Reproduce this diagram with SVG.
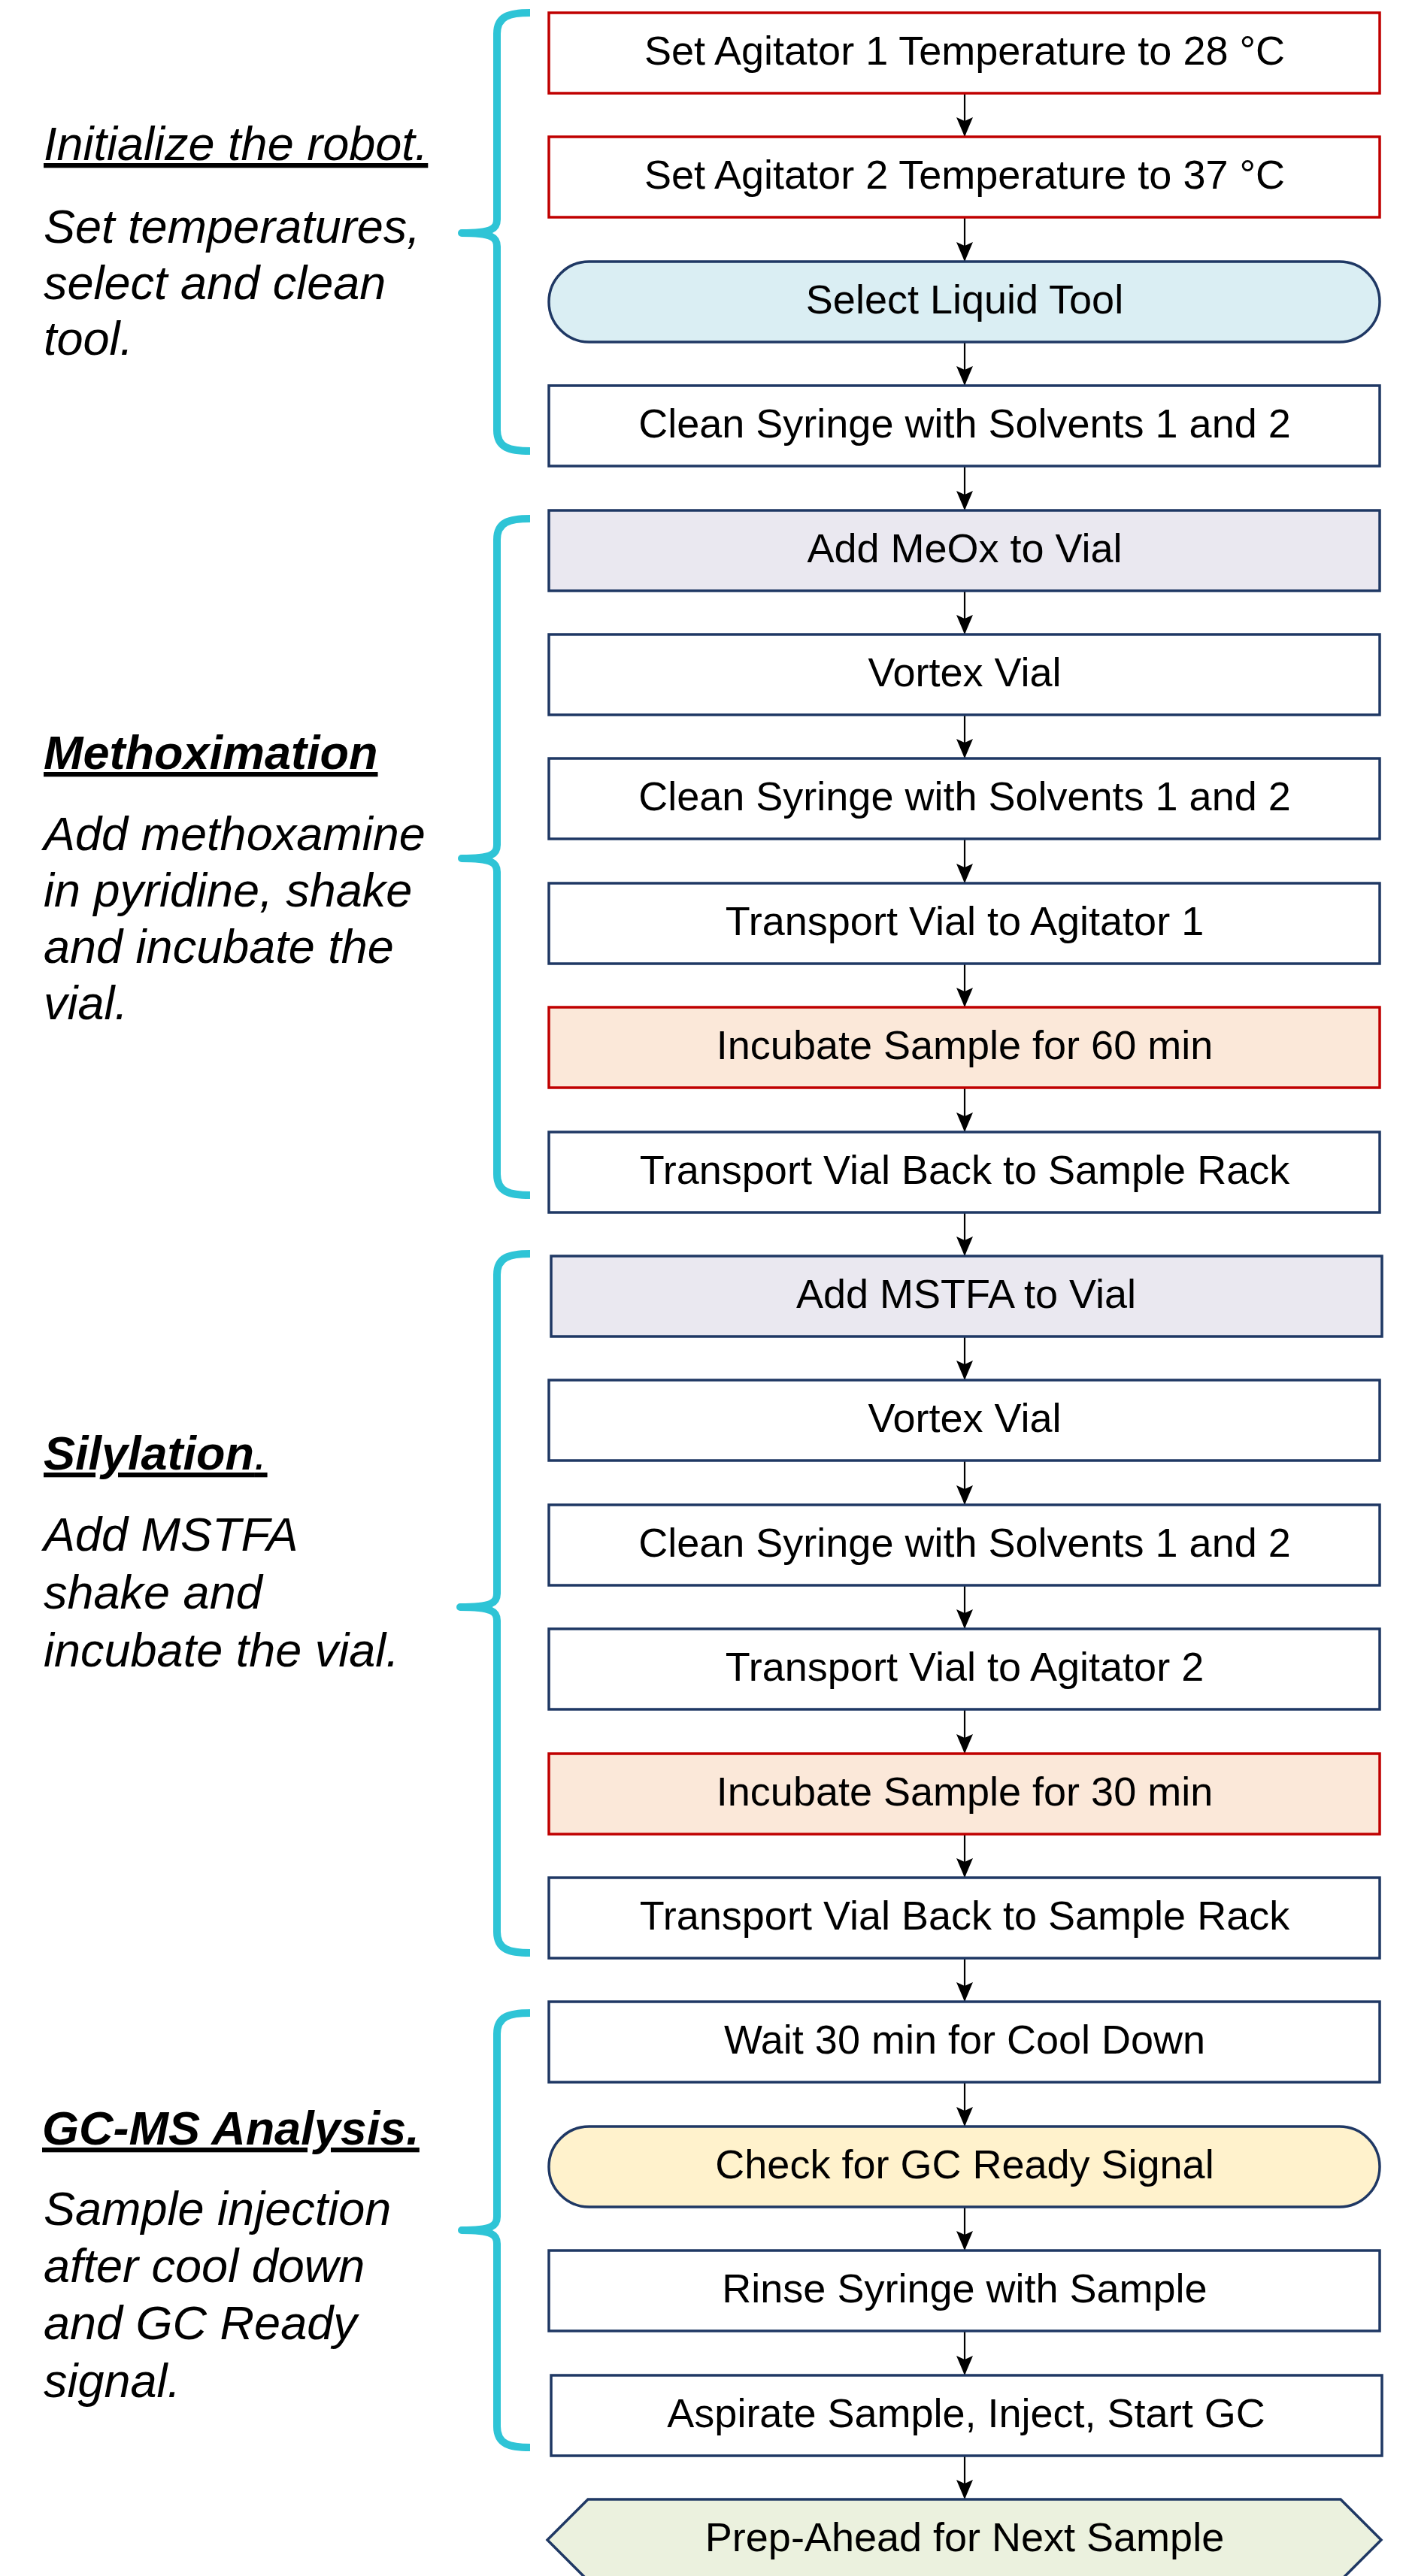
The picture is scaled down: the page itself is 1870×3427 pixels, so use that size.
<svg xmlns="http://www.w3.org/2000/svg" width="1870" height="3427" viewBox="0 0 1870 3427">
<style>
.lbl{font-family:"Liberation Sans",Arial,sans-serif;font-size:54px;fill:#000;text-anchor:middle}
.side{font-family:"Liberation Sans",Arial,sans-serif;font-size:63px;font-style:italic;fill:#000}
.head{text-decoration:underline}
.bold{font-weight:bold}
.box{fill:#fff;stroke:#1F3864;stroke-width:3.5}
.red{fill:#fff;stroke:#C00000;stroke-width:3.5}
.blue{fill:#DAEEF3;stroke:#1F3864;stroke-width:3.5}
.lav{fill:#EAE8F0;stroke:#1F3864;stroke-width:3.5}
.peach{fill:#FBE8D9;stroke:#C00000;stroke-width:3.5}
.yellow{fill:#FFF2CC;stroke:#1F3864;stroke-width:3.5}
.green{fill:#EBF1DE;stroke:#1F3864;stroke-width:3.5}
.brace{fill:none;stroke:#2EC4D6;stroke-width:10;stroke-linejoin:round}
.conn{stroke:#000;stroke-width:2.2;fill:none;marker-end:url(#arr)}
</style>
<defs>
<marker id="arr" markerUnits="userSpaceOnUse" viewBox="0 0 26 22" markerWidth="26" markerHeight="22" refX="26" refY="11" orient="auto">
<path d="M0,0 L26,11 L0,22 L5,11 z" fill="#000"/>
</marker>
</defs>
<rect width="1870" height="3427" fill="#fff"/>

<g id="braces">
<path class="brace" d="M705,17 C678,17 661,21 661,45 V292 C661,304 655,310 614,310 C655,310 661,316 661,328 V572 C661,596 678,600 705,600"/>
<path class="brace" d="M705,690 C678,690 661,694 661,718 V1124 C661,1136 655,1142 614,1142 C655,1142 661,1148 661,1160 V1562 C661,1586 678,1590 705,1590"/>
<path class="brace" d="M705,1668 C678,1668 661,1672 661,1696 V2120 C661,2132 655,2138 612,2138 C655,2138 661,2144 661,2156 V2570 C661,2594 678,2598 705,2598"/>
<path class="brace" d="M705,2678 C678,2678 661,2682 661,2706 V2949 C661,2961 655,2967 614,2967 C655,2967 661,2973 661,2985 V3228 C661,3252 678,3256 705,3256"/>
</g>

<g id="section-init">
<text class="side head" x="58" y="213">Initialize the robot.</text>
<text class="side" x="58" y="323">Set temperatures,</text>
<text class="side" x="58" y="398">select and clean</text>
<text class="side" x="58" y="472">tool.</text>
</g>
<g id="section-methox">
<text class="side head bold" x="58" y="1023">Methoximation</text>
<text class="side" x="58" y="1131">Add methoxamine</text>
<text class="side" x="58" y="1206">in pyridine, shake</text>
<text class="side" x="58" y="1281">and incubate the</text>
<text class="side" x="58" y="1356">vial.</text>
</g>
<g id="section-silyl">
<text class="side head bold" x="58" y="1955">Silylation<tspan font-weight="normal">.</tspan></text>
<text class="side" x="58" y="2063">Add MSTFA</text>
<text class="side" x="58" y="2140">shake and</text>
<text class="side" x="58" y="2217">incubate the vial.</text>
</g>
<g id="section-gcms">
<text class="side head bold" x="56" y="2853">GC-MS Analysis.</text>
<text class="side" x="58" y="2960">Sample injection</text>
<text class="side" x="58" y="3036">after cool down</text>
<text class="side" x="58" y="3112">and GC Ready</text>
<text class="side" x="58" y="3189">signal.</text>
</g>

<g id="connectors">
<line class="conn" x1="1283" y1="124" x2="1283" y2="182"/>
<line class="conn" x1="1283" y1="289" x2="1283" y2="348"/>
<line class="conn" x1="1283" y1="455" x2="1283" y2="513"/>
<line class="conn" x1="1283" y1="620" x2="1283" y2="679"/>
<line class="conn" x1="1283" y1="786" x2="1283" y2="844"/>
<line class="conn" x1="1283" y1="951" x2="1283" y2="1009"/>
<line class="conn" x1="1283" y1="1116" x2="1283" y2="1175"/>
<line class="conn" x1="1283" y1="1282" x2="1283" y2="1340"/>
<line class="conn" x1="1283" y1="1447" x2="1283" y2="1506"/>
<line class="conn" x1="1283" y1="1613" x2="1283" y2="1671"/>
<line class="conn" x1="1283" y1="1778" x2="1283" y2="1836"/>
<line class="conn" x1="1283" y1="1943" x2="1283" y2="2002"/>
<line class="conn" x1="1283" y1="2109" x2="1283" y2="2167"/>
<line class="conn" x1="1283" y1="2274" x2="1283" y2="2333"/>
<line class="conn" x1="1283" y1="2440" x2="1283" y2="2498"/>
<line class="conn" x1="1283" y1="2605" x2="1283" y2="2663"/>
<line class="conn" x1="1283" y1="2770" x2="1283" y2="2829"/>
<line class="conn" x1="1283" y1="2936" x2="1283" y2="2994"/>
<line class="conn" x1="1283" y1="3101" x2="1283" y2="3160"/>
<line class="conn" x1="1283" y1="3267" x2="1283" y2="3325"/>
</g>

<g id="n01"><rect class="red" x="730" y="17" width="1105" height="107"/><text class="lbl" x="1283" y="86">Set Agitator 1 Temperature to 28 °C</text></g>
<g id="n02"><rect class="red" x="730" y="182" width="1105" height="107"/><text class="lbl" x="1283" y="251">Set Agitator 2 Temperature to 37 °C</text></g>
<g id="n03"><rect class="blue" x="730" y="348" width="1105" height="107" rx="53.5" ry="53.5"/><text class="lbl" x="1283" y="417">Select Liquid Tool</text></g>
<g id="n04"><rect class="box" x="730" y="513" width="1105" height="107"/><text class="lbl" x="1283" y="582">Clean Syringe with Solvents 1 and 2</text></g>
<g id="n05"><rect class="lav" x="730" y="679" width="1105" height="107"/><text class="lbl" x="1283" y="748">Add MeOx to Vial</text></g>
<g id="n06"><rect class="box" x="730" y="844" width="1105" height="107"/><text class="lbl" x="1283" y="913">Vortex Vial</text></g>
<g id="n07"><rect class="box" x="730" y="1009" width="1105" height="107"/><text class="lbl" x="1283" y="1078">Clean Syringe with Solvents 1 and 2</text></g>
<g id="n08"><rect class="box" x="730" y="1175" width="1105" height="107"/><text class="lbl" x="1283" y="1244">Transport Vial to Agitator 1</text></g>
<g id="n09"><rect class="peach" x="730" y="1340" width="1105" height="107"/><text class="lbl" x="1283" y="1409">Incubate Sample for 60 min</text></g>
<g id="n10"><rect class="box" x="730" y="1506" width="1105" height="107"/><text class="lbl" x="1283" y="1575">Transport Vial Back to Sample Rack</text></g>
<g id="n11"><rect class="lav" x="733" y="1671" width="1105" height="107"/><text class="lbl" x="1285" y="1740">Add MSTFA to Vial</text></g>
<g id="n12"><rect class="box" x="730" y="1836" width="1105" height="107"/><text class="lbl" x="1283" y="1905">Vortex Vial</text></g>
<g id="n13"><rect class="box" x="730" y="2002" width="1105" height="107"/><text class="lbl" x="1283" y="2071">Clean Syringe with Solvents 1 and 2</text></g>
<g id="n14"><rect class="box" x="730" y="2167" width="1105" height="107"/><text class="lbl" x="1283" y="2236">Transport Vial to Agitator 2</text></g>
<g id="n15"><rect class="peach" x="730" y="2333" width="1105" height="107"/><text class="lbl" x="1283" y="2402">Incubate Sample for 30 min</text></g>
<g id="n16"><rect class="box" x="730" y="2498" width="1105" height="107"/><text class="lbl" x="1283" y="2567">Transport Vial Back to Sample Rack</text></g>
<g id="n17"><rect class="box" x="730" y="2663" width="1105" height="107"/><text class="lbl" x="1283" y="2732">Wait 30 min for Cool Down</text></g>
<g id="n18"><rect class="yellow" x="730" y="2829" width="1105" height="107" rx="53.5" ry="53.5"/><text class="lbl" x="1283" y="2898">Check for GC Ready Signal</text></g>
<g id="n19"><rect class="box" x="730" y="2994" width="1105" height="107"/><text class="lbl" x="1283" y="3063">Rinse Syringe with Sample</text></g>
<g id="n20"><rect class="box" x="733" y="3160" width="1105" height="107"/><text class="lbl" x="1285" y="3229">Aspirate Sample, Inject, Start GC</text></g>
<g id="n21"><polygon class="green" points="728,3379 782,3325 1783,3325 1837,3379 1783,3433 782,3433"/><text class="lbl" x="1283" y="3394">Prep-Ahead for Next Sample</text></g>
</svg>
